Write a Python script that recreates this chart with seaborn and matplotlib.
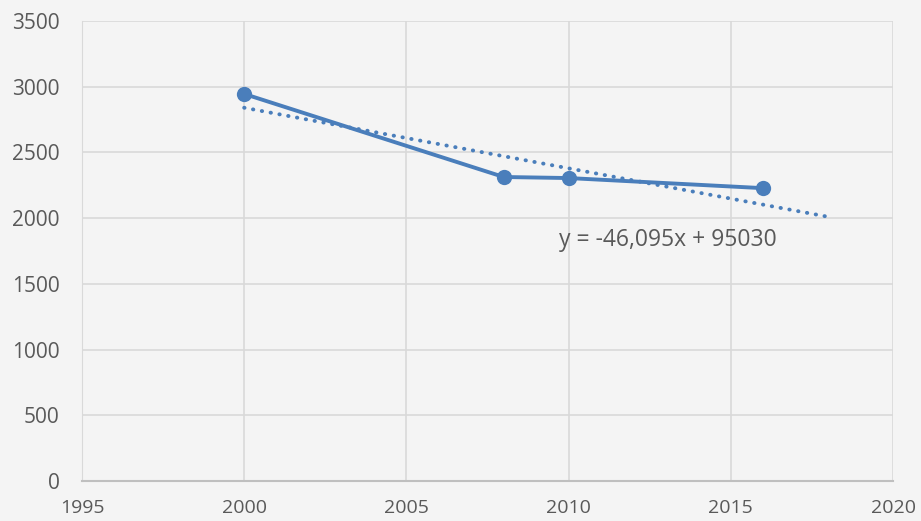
import matplotlib.pyplot as plt
import numpy as np
import pandas as pd
import seaborn as sns

years = [2000, 2008, 2010, 2016]
values = [2945, 2313, 2305, 2228]

# trendline as printed on the chart: y = -46,095x + 95030
slope = -46.095
intercept = 95030
trend_years = [2000, 2018]
eq_label = 'y = -46,095x + 95030'

x_ticks = [1995, 2000, 2005, 2010, 2015, 2020]
y_ticks = [0, 500, 1000, 1500, 2000, 2500, 3000, 3500]

sns.set_style('white')
plt.rcParams['font.family'] = ['Open Sans', 'DejaVu Sans']

bg = '#f4f4f4'
blue = '#4a7ebb'
grey_txt = '#595959'

fig = plt.figure(figsize=(9.21, 5.21), dpi=100, facecolor=bg)
ax = fig.add_axes([0.089, 0.0768, 0.8806, 0.8829], facecolor=bg)

df = pd.DataFrame({'year': years, 'value': values})
sns.lineplot(data=df, x='year', y='value', ax=ax, color=blue, linewidth=2.8,
             marker='o', markersize=11, markeredgewidth=0, zorder=3)

tx = np.array(trend_years, dtype=float)
ax.plot(tx, slope * tx + intercept, color=blue, linestyle=(0, (0.1, 2.2)),
        linewidth=2.8, dash_capstyle='round', zorder=2)

ax.text(2013.05, 1834, eq_label, ha='center', va='center', fontsize=16.5,
        color=grey_txt)

ax.set_xlim(1995, 2020)
ax.set_ylim(0, 3500)
ax.set_xticks(x_ticks)
ax.set_yticks(y_ticks)
ax.grid(True, color='#d9d9d9', linewidth=1.2)
for s in ['top', 'right']:
    ax.spines[s].set_visible(False)
ax.spines['left'].set_color('#d9d9d9')
ax.spines['bottom'].set_color('#bfbfbf')
ax.spines['bottom'].set_linewidth(1.5)
ax.tick_params(axis='both', length=0, colors=grey_txt)
ax.tick_params(axis='x', pad=13, labelsize=14)
ax.tick_params(axis='y', pad=16, labelsize=15)
ax.set_xlabel('')
ax.set_ylabel('')

plt.savefig('out.png', dpi=100, facecolor=bg)
